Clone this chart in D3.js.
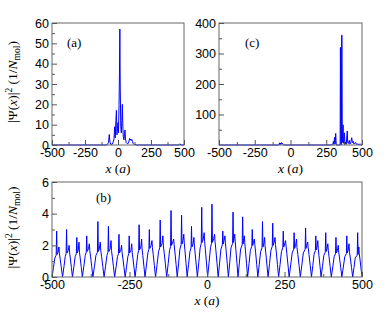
<!DOCTYPE html>
<html>
<head>
<meta charset="utf-8">
<script src="https://cdn.jsdelivr.net/npm/d3@7"></script>
<style>
    body { margin: 0; background: #fff; }
    svg { font-family: "Liberation Serif", "DejaVu Serif", serif; }
    .tick text { font-size: 12.5px; fill: #000; }
    .tick line { stroke: #555; }
    .frame { fill: none; stroke: #666; stroke-width: 1; }
    .trace { fill: none; stroke: #0000ff; stroke-width: 1; stroke-linejoin: round; }
</style>
</head>
<body>
<div id="chart"></div>
<script>
// panel (a): |psi|^2 vs x
var aX = [-500, -90, -80, -72, -66, -61, -55, -45, -36, -30, -25, -21, -16, -12, -8, -4, 0, 4, 8, 11, 14, 17, 21, 25, 29, 33, 36, 40, 45, 49, 53, 57, 62, 70, 78, 84, 88, 92, 96, 100, 105, 110, 114, 120, 130, 145, 455, 465, 470, 476, 500];
var aY = [0, 0, 0.3, 1.2, 5.2, 1.4, 0.4, 0.3, 1.5, 3, 9, 3.5, 12, 17, 5, 8, 11, 6, 20, 35, 57, 28, 9, 6, 12, 20, 11, 4, 2.5, 5, 7.4, 3, 1.2, 0.6, 0.8, 2, 3.2, 2.4, 2.9, 2.2, 2.7, 1.8, 0.8, 0.4, 0.2, 0, 0, 0.3, 0.6, 0, 0];

// panel (c)
var cX = [-500, -85, -79, -77, -74, -71, -68, -64, -60, -56, -50, -44, 285, 292, 296, 300, 304, 308, 312, 316, 320, 335, 347, 349, 352, 356, 358, 360, 362, 364, 368, 370, 373, 377, 381, 385, 390, 394, 397, 400, 405, 411, 416, 421, 428, 433, 439, 444, 450, 456, 462, 470, 480, 487, 495, 500];
var cY = [0, 0, 2, 7, 1, 6, 2, 8, 3, 5, 1, 0, 0, 3, 1, 12, 2, 25, 4, 38, 0, 0, 0, 320, 5, 0, 360, 360, 8, 20, 66, 10, 5, 40, 3, 10, 2, 30, 46, 8, 5, 15, 3, 6, 24, 8, 12, 3, 6, 8, 2, 3, 1, 4, 0, 0];

// panel (b): hump minima, main spike positions/heights, plateau level, second spike
var bZero = [-500, -466, -434, -402, -368, -332, -298, -264, -232, -200, -166, -130, -96, -64, -31, 2, 36, 69, 100, 131, 164, 197, 231, 265, 301, 337, 368, 401, 435, 470, 500];
var bSpikeX = [-485, -453, -420, -388, -352, -318, -284, -251, -219, -186, -151, -116, -82, -50, -17, 16, 51, 84, 115, 146, 179, 212, 246, 281, 318, 351, 383, 416, 451, 486];
var bSpike = [2.9, 3.0, 2.5, 2.6, 3.5, 3.2, 2.7, 2.6, 3.3, 3.0, 3.6, 4.2, 3.9, 3.2, 4.4, 4.6, 2.9, 4.1, 3.8, 3.0, 3.5, 3.4, 2.9, 2.8, 3.1, 2.6, 2.8, 2.5, 2.6, 2.8];
var bLevel = [1.5, 1.6, 1.6, 1.7, 1.7, 1.7, 1.6, 1.6, 1.8, 1.9, 2.0, 2.1, 2.2, 2.0, 2.3, 2.3, 2.2, 2.3, 2.2, 2.1, 2.0, 2.1, 2.0, 1.9, 1.9, 1.8, 1.7, 1.6, 1.6, 1.5];
var bSecond = [1.9, 2.0, 2.2, 2.1, 2.2, 2.3, 2.0, 2.1, 2.4, 2.3, 2.6, 2.4, 2.7, 2.5, 2.8, 2.7, 2.6, 2.7, 2.6, 2.4, 2.5, 2.5, 2.3, 2.4, 2.2, 2.3, 2.1, 2.0, 2.1, 1.9];

var xTicks = [-500, -250, 0, 250, 500],
    xMinor = [-375, -125, 125, 375];

var W = 390, H = 314;
var svg = d3.select('#chart').append('svg').attr('width', W).attr('height', H);

// one hump: V minimum, rounded rise, main spike, plateau, second spike, rounded fall
var bPoints = [];
bSpike.forEach(function(s, i) {
    var z0 = bZero[i], z1 = bZero[i+1], w = z1 - z0, sx = bSpikeX[i], L = bLevel[i];
    var s2 = z0 + w*0.66;
    bPoints.push([z0, 0]);
    bPoints.push([z0 + w*0.14, L*0.4]);
    bPoints.push([z0 + w*0.27, L*0.8]);
    bPoints.push([sx - 1.5, L*0.92]);
    bPoints.push([sx, s]);
    bPoints.push([sx + 1.5, L*0.95]);
    bPoints.push([z0 + w*0.58, L*1.05]);
    bPoints.push([s2, bSecond[i]]);
    bPoints.push([s2 + 1.5, L*0.98]);
    bPoints.push([z0 + w*0.78, L*0.75]);
    bPoints.push([z0 + w*0.89, L*0.38]);
});
bPoints.push([500, 0]);

function label(d) { return String(d); }

function panel(opt) {
    var g = svg.append('g'),
        x = d3.scaleLinear().domain([-500, 500]).range([opt.left, opt.right]),
        y = d3.scaleLinear().domain([0, opt.ymax]).range([opt.bottom, opt.top]);

    g.append('path')
        .datum(opt.points)
        .attr('class', 'trace')
        .attr('d', d3.line().x(function(d) { return x(d[0]); }).y(function(d) { return y(d[1]); }));

    g.append('rect')
        .attr('class', 'frame')
        .attr('x', opt.left).attr('y', opt.top)
        .attr('width', opt.right - opt.left).attr('height', opt.bottom - opt.top);

    g.append('g')
        .attr('transform', 'translate(0,' + opt.bottom + ')')
        .call(d3.axisBottom(x).tickValues(xTicks).tickSizeInner(-5).tickSizeOuter(0).tickPadding(3).tickFormat(label))
        .call(function(a) { a.select('.domain').remove(); a.selectAll('text').attr('dy', '0.75em'); });
    g.append('g')
        .attr('transform', 'translate(0,' + opt.bottom + ')')
        .call(d3.axisBottom(x).tickValues(xMinor).tickSizeInner(-3).tickSizeOuter(0).tickFormat(''))
        .call(function(a) { a.select('.domain').remove(); });

    g.append('g')
        .attr('transform', 'translate(' + opt.left + ',0)')
        .call(d3.axisLeft(y).tickValues(opt.yTicks).tickSizeInner(-5).tickSizeOuter(0).tickPadding(3).tickFormat(label))
        .call(function(a) { a.select('.domain').remove(); });
    g.append('g')
        .attr('transform', 'translate(' + opt.left + ',0)')
        .call(d3.axisLeft(y).tickValues(opt.yMinor).tickSizeInner(-3).tickSizeOuter(0).tickFormat(''))
        .call(function(a) { a.select('.domain').remove(); });

    g.append('text')
        .attr('x', opt.tagX).attr('y', opt.tagY)
        .style('font-size', '13px')
        .text(opt.tag);

    var xl = g.append('text')
        .attr('x', (opt.left + opt.right)/2).attr('y', opt.bottom + 28)
        .attr('text-anchor', 'middle')
        .style('font-size', '13.5px');
    xl.append('tspan').style('font-style', 'italic').text('x');
    xl.append('tspan').text(' (');
    xl.append('tspan').style('font-style', 'italic').text('a');
    xl.append('tspan').text(')');

    if (opt.ylabel) {
        var yl = g.append('text')
            .attr('transform', 'translate(17,' + ((opt.top + opt.bottom)/2 - 2) + ') rotate(-90)')
            .attr('text-anchor', 'middle')
            .style('font-size', '13.5px');
        yl.append('tspan').text('|\u03A8(');
        yl.append('tspan').style('font-style', 'italic').text('x');
        yl.append('tspan').text(')|');
        yl.append('tspan').attr('dy', -5).style('font-size', '9.5px').text('2');
        yl.append('tspan').attr('dy', 5).text(' (1/');
        yl.append('tspan').style('font-style', 'italic').text('N');
        yl.append('tspan').attr('dy', 3).style('font-size', '9.5px').text('mol');
        yl.append('tspan').attr('dy', -3).text(')');
    }
}

panel({left: 52, right: 184, top: 23, bottom: 145, ymax: 60,
       yTicks: [0, 10, 20, 30, 40, 50, 60], yMinor: [5, 15, 25, 35, 45, 55],
       points: d3.zip(aX, aY), tag: '(a)', tagX: 67, tagY: 47, ylabel: true});

panel({left: 219, right: 362, top: 23, bottom: 145, ymax: 400,
       yTicks: [100, 200, 300, 400], yMinor: [50, 150, 250, 350],
       points: d3.zip(cX, cY), tag: '(c)', tagX: 245, tagY: 47, ylabel: false});

panel({left: 52, right: 362, top: 182, bottom: 277, ymax: 6,
       yTicks: [0, 2, 4, 6], yMinor: [1, 3, 5],
       points: bPoints, tag: '(b)', tagX: 96, tagY: 202, ylabel: true});
</script>
</body>
</html>
